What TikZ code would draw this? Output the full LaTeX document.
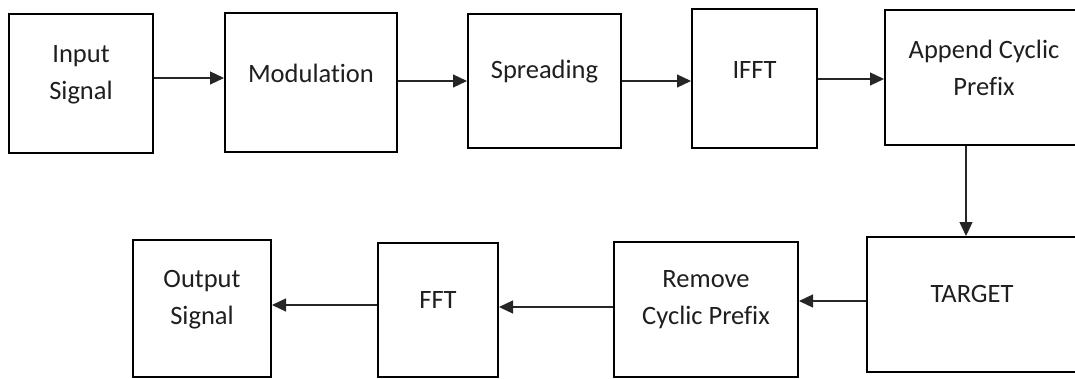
\documentclass[tikz,border=0pt]{standalone}
\usepackage{fontspec}
\setmainfont[Ligatures={NoCommon}]{Carlito}
\usetikzlibrary{arrows.meta}
\begin{document}
\begin{tikzpicture}[x=1pt,y=-1pt,
  blockbox/.style={draw=black, line width=2pt, fill=white, inner sep=0pt},
  lbl/.style={align=center, inner sep=0pt, text=black!88,
    font=\fontsize{26.5}{37}\selectfont},
  flow/.style={line width=1.2pt, draw=black!85, -{Triangle[length=14pt,width=13pt]}}]
\useasboundingbox (0,0) rectangle (1075,378);
\clip (0,0) rectangle (1075,378);
\fill[white] (0,0) rectangle (1075,378);
% boxes
\node[blockbox, minimum width=144pt, minimum height=139pt] (b1) at (81,83.5) {};
\node[blockbox, minimum width=172pt, minimum height=139pt] (b2) at (311,82.5) {};
\node[blockbox, minimum width=153pt, minimum height=134pt] (b3) at (544.5,81) {};
\node[blockbox, minimum width=125pt, minimum height=139pt] (b4) at (754.5,78.5) {};
\node[blockbox, minimum width=198pt, minimum height=135pt] (b5) at (984,77.5) {};
\node[blockbox, minimum width=214pt, minimum height=135pt] (b6) at (974,304.5) {};
\node[blockbox, minimum width=184pt, minimum height=135pt] (b7) at (706,309.5) {};
\node[blockbox, minimum width=120pt, minimum height=134pt] (b8) at (438,310) {};
\node[blockbox, minimum width=138pt, minimum height=137pt] (b9) at (202,308.5) {};
% labels
\node[lbl] (t1) at (81,74.5) {Input\\Signal};
\node[lbl] (t2) at (311,73) {Modulation};
\node[lbl] (t3) at (544.5,72) {Spreading};
\node[lbl] (t4) at (754.5,70) {IFFT};
\node[lbl] (t5) at (984,68) {Append Cyclic\\Prefix};
\node[lbl] (t6) at (972,294) {TARGET};
\node[lbl] (t7) at (706,299.5) {Remove\\Cyclic Prefix};
\node[lbl] (t8) at (438,300) {FFT};
\node[lbl] (t9) at (202,299.5) {Output\\Signal};
% connectors
\coordinate (a1) at (0,78);
\draw[flow] (b1.east |- a1) -- (b2.west |- a1);
\coordinate (a2) at (0,81);
\draw[flow] (b2.east |- a2) -- (b3.west |- a2);
\draw[flow] (b3.east |- a2) -- (b4.west |- a2);
\coordinate (a4) at (0,79);
\draw[flow] (b4.east |- a4) -- (b5.west |- a4);
\coordinate (a5) at (966,0);
\draw[flow] (b5.south -| a5) -- (b6.north -| a5);
\coordinate (a6) at (0,301);
\draw[flow] (b6.west |- a6) -- (b7.east |- a6);
\coordinate (a7) at (0,307);
\draw[flow] (b7.west |- a7) -- (b8.east |- a7);
\coordinate (a8) at (0,305);
\draw[flow] (b8.west |- a8) -- (b9.east |- a8);
\end{tikzpicture}
\end{document}
